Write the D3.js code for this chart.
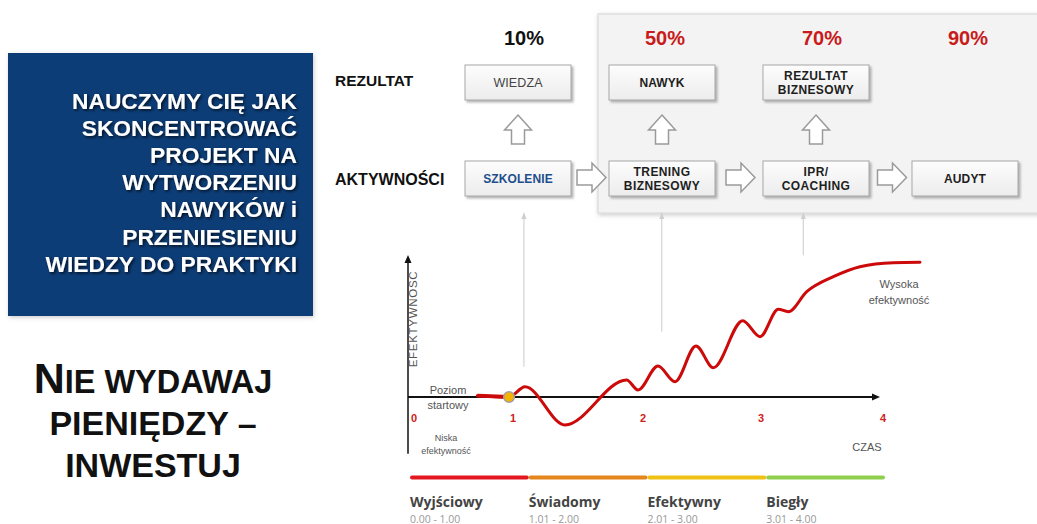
<!DOCTYPE html>
<html><head><meta charset="utf-8">
<script src="https://cdn.jsdelivr.net/npm/d3@7"></script>
<style>body{margin:0;background:#fff}svg{display:block}</style>
</head><body>
<svg id="c" width="1037" height="524"></svg>
<script>
// ---------- data ----------
const headline = ["NAUCZYMY CIĘ JAK","SKONCENTROWAĆ","PROJEKT NA","WYTWORZENIU","NAWYKÓW i","PRZENIESIENIU","WIEDZY DO PRAKTYKI"];
const sloganLines = ["NIE WYDAWAJ","PIENIĘDZY –","INWESTUJ"];
const rowLabels = ["REZULTAT","AKTYWNOŚCI"];
const percents = ["10%","50%","70%","90%"];
const resultLabels = ["WIEDZA","NAWYK","REZULTAT|BIZNESOWY",""];
const activityLabels = ["SZKOLENIE","TRENING|BIZNESOWY","IPR/|COACHING","AUDYT"];
const xTicks = [0,1,2,3,4];
const curveTime  = [0.64, 0.96, 1.092, 1.40, 1.874, 1.962, 2.127, 2.271, 2.449, 2.596, 2.845, 2.992, 3.142, 3.224, 3.375, 3.593, 3.811, 4.084, 4.303];
const curveValue = [0.10, 0.00, 0.76, -2.07, 1.26, 0.52, 2.30, 1.13, 3.78, 2.17, 5.65, 4.47, 6.50, 6.32, 7.80, 8.91, 9.65, 9.95, 9.98];
const startLevel = 0;
const markerTime  = [1.084, 2.159, 3.347];
const markerReach = [2.24, 4.84, 10.5];
const stages = ["Wyjściowy","Świadomy","Efektywny","Biegły"];
const stageRanges = ["0.00 - 1.00","1.01 - 2.00","2.01 - 3.00","3.01 - 4.00"];
const stageColors = ["#e3171f","#e4861c","#efc114","#8fcf4d"];

// ---------- setup ----------
const svg = d3.select("#c");
const F = "'Liberation Sans', Arial, sans-serif";
const defs = svg.append("defs");
const sh = defs.append("filter").attr("id","sh").attr("x","-10%").attr("y","-10%").attr("width","130%").attr("height","140%");
sh.append("feDropShadow").attr("dx",2).attr("dy",2).attr("stdDeviation",1.2).attr("flood-color","#777").attr("flood-opacity",0.55);
const sh2 = defs.append("filter").attr("id","sh2").attr("x","-10%").attr("y","-10%").attr("width","130%").attr("height","140%");
sh2.append("feDropShadow").attr("dx",1.5).attr("dy",1.5).attr("stdDeviation",1.5).attr("flood-color","#000").attr("flood-opacity",0.75);
const sh3 = defs.append("filter").attr("id","sh3").attr("x","-5%").attr("y","-5%").attr("width","110%").attr("height","110%");
sh3.append("feDropShadow").attr("dx",1).attr("dy",1.5).attr("stdDeviation",2).attr("flood-color","#999").attr("flood-opacity",0.5);
const gr = defs.append("linearGradient").attr("id","bg").attr("x1",0).attr("y1",0).attr("x2",0).attr("y2",1);
gr.append("stop").attr("offset","0%").attr("stop-color","#fdfdfd");
gr.append("stop").attr("offset","100%").attr("stop-color","#ececec");

// ---------- left blue box ----------
svg.append("rect").attr("x",8).attr("y",53).attr("width",305).attr("height",263)
  .attr("fill","#0d3d77").attr("filter","url(#sh3)");
svg.append("g").selectAll("text").data(headline).join("text")
  .attr("x",297).attr("y",(d,i)=>108.5+i*27.2).attr("text-anchor","end")
  .attr("font-family",F).attr("font-weight","bold").attr("font-size",22.8)
  .attr("fill","#fff").attr("filter","url(#sh2)").text(d=>d);

// slogan (small caps style first line)
const sl = svg.append("g").attr("font-family",F).attr("font-weight","bold").attr("fill","#111");
const l1 = sl.append("text").attr("x",153).attr("y",393).attr("text-anchor","middle");
l1.append("tspan").attr("font-size",43).text(sloganLines[0].charAt(0));
l1.append("tspan").attr("font-size",32.5).text(sloganLines[0].slice(1));
sl.selectAll("text.l").data(sloganLines.slice(1)).join("text").attr("class","l")
  .attr("x",153).attr("y",(d,i)=>435+i*41.7).attr("text-anchor","middle").attr("font-size",34).text(d=>d);

// ---------- top diagram ----------
svg.append("rect").attr("x",598).attr("y",14).attr("width",460).attr("height",199)
  .attr("fill","#f3f3f3").attr("stroke","#e0e0e0").attr("stroke-width",1.5).attr("filter","url(#sh3)");

const col = d3.scaleLinear().domain([0,1,2,3]).range([518,662,816,965]);
const boxW = 106, boxH = 35;
const rowTop = [65,161];

svg.append("g").selectAll("text").data(rowLabels).join("text")
  .attr("x",335).attr("y",(d,i)=>i===0?85.5:184.5)
  .attr("font-family",F).attr("font-weight","bold").attr("font-size",(d,i)=>i===0?15.5:16)
  .attr("fill","#111").text(d=>d);

svg.append("g").selectAll("text").data(percents).join("text")
  .attr("x",(d,i)=>col(i)+(i===0||i===2?6:3)).attr("y",45).attr("text-anchor","middle")
  .attr("font-family",F).attr("font-weight","bold").attr("font-size",20)
  .attr("fill",(d,i)=>i===0?"#111":"#c81b1b").text(d=>d);

function drawBoxes(labels,row){
  const g = svg.append("g");
  labels.forEach((lab,i)=>{
    if(!lab) return;
    const cx = col(i), y0 = rowTop[row];
    g.append("rect").attr("x",cx-boxW/2).attr("y",y0).attr("width",boxW).attr("height",boxH)
      .attr("fill","url(#bg)").attr("stroke","#a8a8a8").attr("stroke-width",1).attr("filter","url(#sh)");
    const lines = lab.split("|");
    const isPlain = row===0 && i===0;
    const isBlue = row===1 && i===0;
    const t = g.append("text").attr("text-anchor","middle").attr("font-family",F)
      .attr("font-weight",isPlain?"normal":"bold").attr("font-size",isPlain?12.5:12)
      .attr("letter-spacing",lines.length>1?0.4:0.1)
      .attr("fill",isBlue?"#1d4f8c":(isPlain?"#444":"#1e1e1e"));
    const cy = y0+boxH/2;
    lines.forEach((ln,k)=>{
      t.append("tspan").attr("x",cx).attr("y",cy+4.3+(k-(lines.length-1)/2)*14.5).text(ln);
    });
  });
}
drawBoxes(resultLabels,0);
drawBoxes(activityLabels,1);

// up arrows
const upG = svg.append("g");
resultLabels.forEach((lab,i)=>{
  if(!lab) return;
  const cx = col(i), y0 = 115;
  const p = [[cx,y0],[cx+13.5,y0+15],[cx+6.5,y0+15],[cx+6.5,y0+29],[cx-6.5,y0+29],[cx-6.5,y0+15],[cx-13.5,y0+15]];
  upG.append("path").attr("d","M"+p.join("L")+"Z").attr("fill","#fff").attr("stroke","#9a9a9a").attr("stroke-width",1.5);
});
// right arrows
const rG = svg.append("g");
d3.range(activityLabels.length-1).forEach(i=>{
  const gc = (col(i)+boxW/2 + col(i+1)-boxW/2)/2 + 1.5;
  const x0 = gc-14.5, x1 = gc+14.5, cy = 177.5;
  const p = [[x0,cy-7.5],[x1-14,cy-7.5],[x1-14,cy-14.5],[x1,cy],[x1-14,cy+14.5],[x1-14,cy+7.5],[x0,cy+7.5]];
  rG.append("path").attr("d","M"+p.join("L")+"Z").attr("fill","#fff").attr("stroke","#9a9a9a").attr("stroke-width",1.5);
});

// ---------- curve chart ----------
const x = d3.scaleLinear().domain(xTicks).range([414,513,643,761,883]);
const y = d3.scaleLinear().domain([0,10]).range([397,262]);
const axisX0 = x(0)-6;

// vertical marker lines
const mG = svg.append("g");
markerTime.forEach((t,i)=>{
  mG.append("line").attr("x1",x(t)).attr("x2",x(t)).attr("y1",214).attr("y2",y(markerReach[i]))
    .attr("stroke","#d4d4d4").attr("stroke-width",1.2);
  mG.append("path").attr("d",`M${x(t)},212L${x(t)+2.5},219L${x(t)-2.5},219Z`).attr("fill","#cfcfcf");
});

// axes
svg.append("line").attr("x1",axisX0).attr("x2",axisX0).attr("y1",y(-4.2)).attr("y2",261)
  .attr("stroke","#111").attr("stroke-width",1.5);
svg.append("path").attr("d",`M${axisX0},255L${axisX0+3.5},263L${axisX0-3.5},263Z`).attr("fill","#111");
svg.append("line").attr("x1",axisX0).attr("x2",874).attr("y1",y(0)).attr("y2",y(0))
  .attr("stroke","#111").attr("stroke-width",1.8);
svg.append("path").attr("d",`M880,${y(0)}L872,${y(0)-3.5}L872,${y(0)+3.5}Z`).attr("fill","#111");

svg.append("g").selectAll("text").data(xTicks).join("text")
  .attr("x",d=>x(d)).attr("y",422).attr("text-anchor","middle")
  .attr("font-family",F).attr("font-weight","bold").attr("font-size",11).attr("fill","#d02020").text(d=>d);

// curve
const pts = curveTime.map((t,i)=>[t,curveValue[i]]);
const line = d3.line().x(d=>x(d[0])).y(d=>y(d[1])).curve(d3.curveMonotoneX);
svg.append("path").attr("d",line(pts)).attr("fill","none").attr("stroke","#cc0a0a")
  .attr("stroke-width",3).attr("stroke-linecap","round");
svg.append("path").attr("d",d3.line().x(d=>x(d[0])).y(d=>y(d[1]))(pts.slice(0,2)))
  .attr("fill","none").attr("stroke","#cc0a0a").attr("stroke-width",3.8);
svg.append("circle").attr("cx",x(curveTime[1])).attr("cy",y(startLevel)).attr("r",5.3)
  .attr("fill","#f6b400").attr("stroke","#a0a0a0").attr("stroke-width",1.6);

// chart texts
const tx = svg.append("g").attr("font-family",F).attr("fill","#555").attr("text-anchor","middle");
tx.append("text").attr("transform","translate(417,319) rotate(-90)").attr("font-size",11.5).attr("letter-spacing",0.7).text("EFEKTYWNOSC");
tx.append("text").attr("x",448).attr("y",394).attr("font-size",11).text("Poziom");
tx.append("text").attr("x",448).attr("y",409).attr("font-size",11).text("startowy");
tx.append("text").attr("x",446).attr("y",441).attr("font-size",9).text("Niska");
tx.append("text").attr("x",446).attr("y",454).attr("font-size",9).text("efektywność");
tx.append("text").attr("x",899).attr("y",288).attr("font-size",11).text("Wysoka");
tx.append("text").attr("x",899).attr("y",304).attr("font-size",11).text("efektywność");
tx.append("text").attr("x",867).attr("y",451).attr("font-size",11).text("CZAS");

// ---------- legend ----------
const lx = d3.scaleLinear().domain([0,4]).range([410,885]);
const lg = svg.append("g");
lg.selectAll("line").data(stages).join("line")
  .attr("x1",(d,i)=>lx(i)+2).attr("x2",(d,i)=>lx(i+1)-2).attr("y1",477.5).attr("y2",477.5)
  .attr("stroke",(d,i)=>stageColors[i]).attr("stroke-width",4).attr("stroke-linecap","round");
lg.selectAll("text.s").data(stages).join("text").attr("class","s")
  .attr("x",(d,i)=>lx(i)).attr("y",507).attr("font-family","'Open Sans', sans-serif")
  .attr("font-weight","bold").attr("font-size",14).attr("fill","#444").text(d=>d);
lg.selectAll("text.r").data(stageRanges).join("text").attr("class","r")
  .attr("x",(d,i)=>lx(i)).attr("y",522.5).attr("font-family","'Open Sans', sans-serif")
  .attr("font-size",10.5).attr("fill","#999").text(d=>d);
</script>
</body></html>
